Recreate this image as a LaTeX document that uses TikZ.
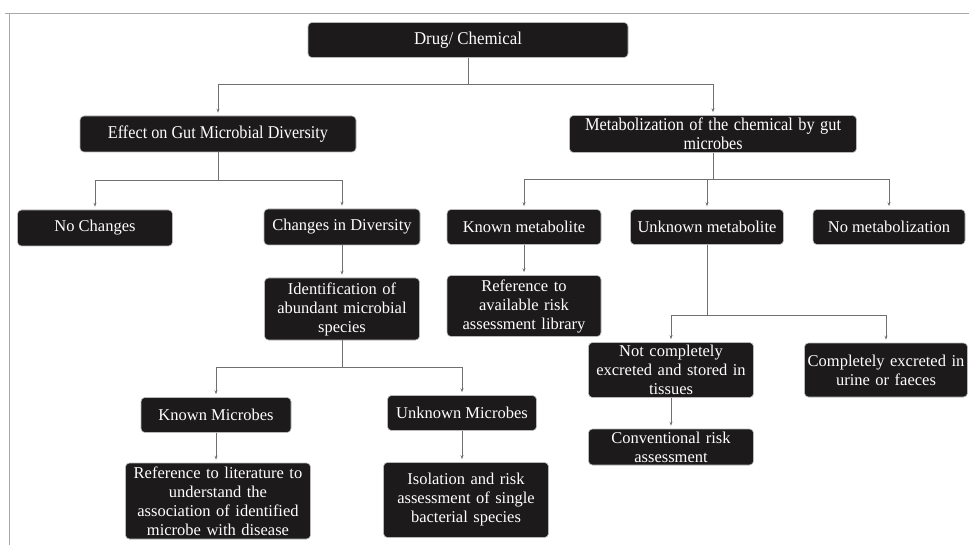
\documentclass[tikz,border=0pt]{standalone}
\usepackage{fontspec}
\usepackage{graphicx}
\setmainfont{Liberation Serif}
\usetikzlibrary{arrows.meta}
\newcommand\condtxt[2]{\resizebox{#1}{\height}{#2}}
\definecolor{boxfill}{HTML}{1C1A1A}
\definecolor{linecol}{HTML}{707070}
\definecolor{framecol}{HTML}{A8A8A8}
\tikzset{
  box/.style={fill=boxfill, draw=gray!55, line width=0.6pt, rounded corners=4pt,
    text=white, align=center, inner sep=1pt, font=\fontsize{16.5}{19}\selectfont},
  topbox/.style={box, font=\fontsize{18}{20}\selectfont},
  conn/.style={draw=linecol, line width=0.8pt},
  arr/.style={conn, -{Stealth[length=4pt,width=3pt]}, shorten >=3pt},
}
\begin{document}
\begin{tikzpicture}[x=1pt,y=-1pt]
\useasboundingbox[fill=white] (0,0) rectangle (969,545);
\draw[framecol, line width=0.8pt] (5,13) -- (969,13);
\draw[framecol, line width=0.8pt] (9,13) -- (9,545);

% top level
\node[topbox, minimum width=320pt, minimum height=35pt] (drug) at (468,40) {\condtxt{108pt}{Drug/ Chemical}};
\node[topbox, minimum width=276pt, minimum height=36pt] (effect) at (218,134) {\condtxt{220pt}{Effect on Gut Microbial Diversity}};
\node[topbox, minimum width=287pt, minimum height=37pt, text width=285pt] (metab) at (713,134) {\condtxt{256pt}{Metabolization of the chemical by gut}\\[-1pt]\condtxt{59pt}{microbes}};

% left branch
\node[box, minimum width=155pt, minimum height=36pt] (nochg) at (95,228) {No Changes};
\node[box, minimum width=156pt, minimum height=36pt] (chg) at (342,227) {Changes in Diversity};
\node[box, minimum width=155pt, minimum height=62pt, text width=153pt] (ident) at (342,309) {Identification of\\abundant microbial\\species};
\node[box, minimum width=150pt, minimum height=35pt] (kmic) at (216,415) {Known Microbes};
\node[box, minimum width=149pt, minimum height=35pt] (umic) at (462,413) {Unknown Microbes};
\node[box, minimum width=185pt, minimum height=76pt, text width=183pt] (lit) at (218,501) {Reference to literature to\\understand the\\association of identified\\microbe with disease};
\node[box, minimum width=165pt, minimum height=75pt, text width=163pt] (iso) at (466,500) {Isolation and risk\\assessment of single\\bacterial species};

% right branch
\node[box, minimum width=154pt, minimum height=35pt] (kmet) at (524,227) {Known metabolite};
\node[box, minimum width=153pt, minimum height=35pt] (umet) at (707,227) {Unknown metabolite};
\node[box, minimum width=152pt, minimum height=35pt] (nomet) at (889,227) {No metabolization};
\node[box, minimum width=154pt, minimum height=61pt, text width=152pt] (reflib) at (524,306) {Reference to\\available risk\\assessment library};
\node[box, minimum width=165pt, minimum height=55pt, text width=163pt] (notc) at (671,370) {Not completely\\excreted and stored in\\tissues};
\node[box, minimum width=163pt, minimum height=54pt, text width=161pt] (comp) at (886,370) {Completely excreted in\\urine or faeces};
\node[box, minimum width=165pt, minimum height=36pt, text width=163pt] (conv) at (671,447) {Conventional risk\\assessment};

% junctions
\coordinate (j1) at (468,84);
\coordinate (j2) at (218,180);
\coordinate (j3) at (713,179);
\coordinate (j4) at (342,367);
\coordinate (j5) at (707,315);

\draw[conn] (drug.south) -- (j1);
\draw[arr] (j1) -| (effect.north);
\draw[arr] (j1) -| (metab.north);

\draw[conn] (effect.south) -- (j2);
\draw[arr] (j2) -| (nochg.north);
\draw[arr] (j2) -| (chg.north);
\draw[arr] (chg) -- (ident);

\draw[conn] (ident.south) -- (j4);
\draw[arr] (j4) -| (kmic.north);
\draw[arr] (j4) -| (umic.north);
\draw[arr] (kmic.south) -- (kmic.south |- lit.north);
\draw[arr] (umic.south) -- (umic.south |- iso.north);

\draw[conn] (metab.south) -- (j3);
\draw[arr] (j3) -| (kmet.north);
\draw[arr] (j3) -| (umet.north);
\draw[arr] (j3) -| (nomet.north);
\draw[arr] (kmet) -- (reflib);

\draw[conn] (umet.south) -- (j5);
\draw[arr] (j5) -| (notc.north);
\draw[arr] (j5) -| (comp.north);
\draw[arr] (notc) -- (conv);
\end{tikzpicture}
\end{document}
